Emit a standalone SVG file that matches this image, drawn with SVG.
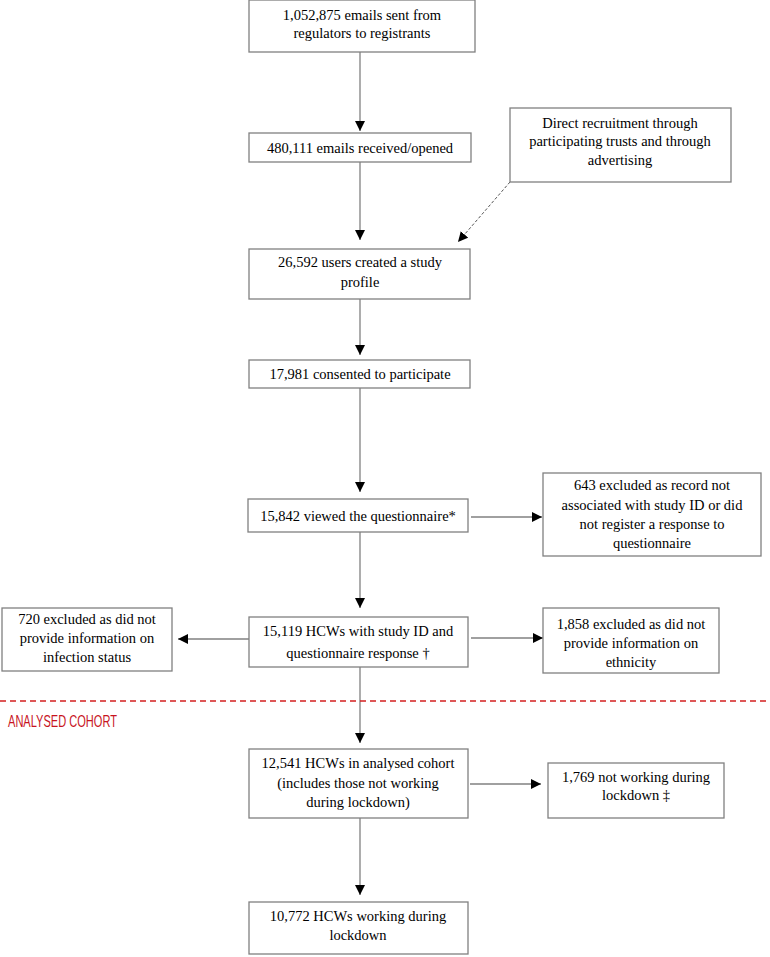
<svg xmlns="http://www.w3.org/2000/svg" width="770" height="957" viewBox="0 0 770 957">
<style>
.box{fill:#fff;stroke:#808080;stroke-width:1.3}
.t{font-family:"Liberation Serif","Times New Roman",serif;font-size:14.5px;fill:#000;text-anchor:middle}
.ln{stroke:#808080;stroke-width:1.3;fill:none}
.dash{stroke:#555;stroke-width:1;stroke-dasharray:3,2;fill:none}
</style>
<defs>
<marker id="ah" viewBox="0 0 10 10" refX="10" refY="5" markerWidth="10" markerHeight="10" markerUnits="userSpaceOnUse" orient="auto">
<path d="M0,0 L10,5 L0,10 z" fill="#000"/>
</marker>
</defs>
<rect width="770" height="957" fill="#fff"/>
<g id="connectors">
<line class="ln" x1="360" y1="52" x2="360" y2="131" marker-end="url(#ah)"/>
<line class="ln" x1="360" y1="162" x2="360" y2="240" marker-end="url(#ah)"/>
<line class="dash" x1="510" y1="182" x2="458" y2="242" marker-end="url(#ah)"/>
<line class="ln" x1="360" y1="299" x2="360" y2="355" marker-end="url(#ah)"/>
<line class="ln" x1="360" y1="388" x2="360" y2="492" marker-end="url(#ah)"/>
<line class="ln" x1="471" y1="517" x2="542" y2="517" marker-end="url(#ah)"/>
<line class="ln" x1="360" y1="532" x2="360" y2="608" marker-end="url(#ah)"/>
<line class="ln" x1="249" y1="639" x2="178" y2="639" marker-end="url(#ah)"/>
<line class="ln" x1="471" y1="638" x2="543" y2="638" marker-end="url(#ah)"/>
<line class="ln" x1="360" y1="667" x2="360" y2="743" marker-end="url(#ah)"/>
<line class="ln" x1="470" y1="784" x2="541" y2="784" marker-end="url(#ah)"/>
<line class="ln" x1="360" y1="818" x2="360" y2="895" marker-end="url(#ah)"/>
</g>
<g id="cohort-divider">
<line x1="0" y1="701" x2="770" y2="701" stroke="#d42020" stroke-width="1.5" stroke-dasharray="6,4"/>
<text x="8" y="727" font-family="'Liberation Sans',Arial,sans-serif" font-size="16.5" fill="#c8141e" textLength="109" lengthAdjust="spacingAndGlyphs">ANALYSED COHORT</text>
</g>
<g id="n1"><rect class="box" x="249" y="0" width="226" height="52"/>
<text class="t" x="362" y="20">1,052,875 emails sent from</text>
<text class="t" x="362" y="38">regulators to registrants</text></g>
<g id="n2"><rect class="box" x="249" y="133" width="222" height="29"/>
<text class="t" x="360" y="153">480,111 emails received/opened</text></g>
<g id="n3"><rect class="box" x="510" y="108" width="221" height="74"/>
<text class="t" x="620" y="128">Direct recruitment through</text>
<text class="t" x="620" y="146">participating trusts and through</text>
<text class="t" x="620" y="165">advertising</text></g>
<g id="n4"><rect class="box" x="249" y="249" width="221" height="50"/>
<text class="t" x="360" y="267">26,592 users created a study</text>
<text class="t" x="360" y="287">profile</text></g>
<g id="n5"><rect class="box" x="249" y="360" width="221" height="28"/>
<text class="t" x="360" y="379">17,981 consented to participate</text></g>
<g id="n6"><rect class="box" x="248" y="499" width="220" height="33"/>
<text class="t" x="358" y="521">15,842 viewed the questionnaire*</text></g>
<g id="n7"><rect class="box" x="543" y="473" width="218" height="83"/>
<text class="t" x="652" y="490">643 excluded as record not</text>
<text class="t" x="652" y="510">associated with study ID or did</text>
<text class="t" x="652" y="529">not register a response to</text>
<text class="t" x="652" y="548">questionnaire</text></g>
<g id="n8"><rect class="box" x="2" y="608" width="170" height="63"/>
<text class="t" x="87" y="624">720 excluded as did not</text>
<text class="t" x="87" y="643">provide information on</text>
<text class="t" x="87" y="662">infection status</text></g>
<g id="n9"><rect class="box" x="249" y="617" width="219" height="50"/>
<text class="t" x="358" y="636">15,119 HCWs with study ID and</text>
<text class="t" x="358" y="658">questionnaire response †</text></g>
<g id="n10"><rect class="box" x="543" y="608" width="176" height="65"/>
<text class="t" x="631" y="629">1,858 excluded as did not</text>
<text class="t" x="631" y="648">provide information on</text>
<text class="t" x="631" y="667">ethnicity</text></g>
<g id="n11"><rect class="box" x="249" y="749" width="219" height="69"/>
<text class="t" x="358" y="768">12,541 HCWs in analysed cohort</text>
<text class="t" x="358" y="788">(includes those not working</text>
<text class="t" x="358" y="807">during lockdown)</text></g>
<g id="n12"><rect class="box" x="548" y="763" width="176" height="55"/>
<text class="t" x="636" y="782">1,769 not working during</text>
<text class="t" x="636" y="800">lockdown ‡</text></g>
<g id="n13"><rect class="box" x="249" y="902" width="219" height="52"/>
<text class="t" x="358" y="921">10,772 HCWs working during</text>
<text class="t" x="358" y="940">lockdown</text></g>
</svg>
